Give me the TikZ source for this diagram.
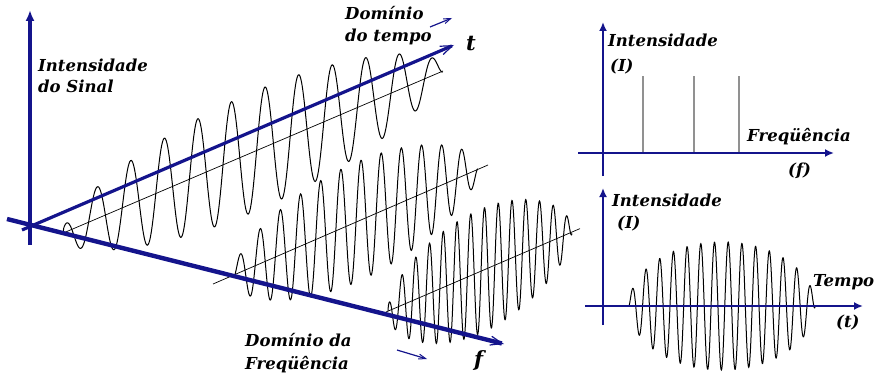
\documentclass[tikz,border=0pt]{standalone}
\usepackage{fontspec}
\setmainfont{DejaVu Serif}
\usetikzlibrary{arrows.meta}
\definecolor{axblue}{RGB}{20,20,140}
\definecolor{spikegray}{RGB}{145,145,145}
\tikzset{
  lab/.style={font=\fontsize{16.5}{18}\selectfont\bfseries\itshape, inner sep=0pt, anchor=base west},
  biglab/.style={font=\fontsize{21}{22}\selectfont\bfseries\itshape, inner sep=0pt, anchor=base west},
  wave/.style={line width=1pt, black},
  baseln/.style={line width=0.7pt, black},
  axis/.style={line width=3.2pt, axblue},
  raxis/.style={line width=2.8pt, axblue, -{Latex[length=9pt,width=8pt]}},
  barb/.style={-{Straight Barb[length=12pt,width=9pt,line width=1.2pt]}},
  smallarrow/.style={line width=1.2pt, axblue, -{Straight Barb[length=7pt,width=5pt,line width=1pt]}},
  spike/.style={line width=2.2pt, spikegray}
}
\begin{document}
\begin{tikzpicture}[x=1pt,y=-1pt]
\useasboundingbox (0,0) rectangle (882,377);
% ---------- left: 3D picture ----------
\coordinate (b1s) at (61,234);  \coordinate (b1e) at (443,71);
\coordinate (b2s) at (213,284); \coordinate (b2e) at (488,165);
\coordinate (b3s) at (386,312); \coordinate (b3e) at (580,228.6);
\draw[baseln] (b1s) -- (b1e);
\draw[baseln] (b2s) -- (b2e);
\draw[baseln] (b3s) -- (b3e);
% wave packets
\draw[wave] plot[domain=0:1, samples=500, variable=\s]
  ({63+380*\s}, {233.1-162.1*\s - 60*sqrt(abs(sin(180*\s)))*cos(10.714*(380*\s-34))});
\draw[wave] plot[domain=0:1, samples=500, variable=\s]
  ({233+245*\s}, {275.5-106*\s - 60*sqrt(abs(sin(180*\s)))*cos(17.848*(245*\s-7))});
\draw[wave] plot[domain=0:1, samples=600, variable=\s]
  ({388+184*\s}, {311-79*\s - 62*sqrt(abs(sin(180*\s)))*cos(26.182*(184*\s-14))});
% axes
\coordinate (vbot) at (30,245); \coordinate (vtop) at (30,10);
\coordinate (tstart) at (22,230); \coordinate (ttip) at (454,45);
\coordinate (fstart) at (7,219);  \coordinate (ftip) at (504,344);
\draw[axis, -{Latex[length=11pt,width=9pt]}] (vbot) -- (vtop);
\draw[axis, barb] (tstart) -- (ttip);
\draw[axis, line width=4.4pt, barb] (fstart) -- (ftip);
% small direction arrows
\coordinate (ta1) at (430,27); \coordinate (ta2) at (452,18);
\coordinate (fa1) at (397,350); \coordinate (fa2) at (427,359);
\draw[smallarrow] (ta1) -- (ta2);
\draw[smallarrow] (fa1) -- (fa2);
% labels
\node[lab] (is1) at (38,71.5) {Intensidade};
\node[lab] (is2) at (38,92.5) {do Sinal};
\node[lab] (dt1) at (345,20) {Domínio};
\node[lab] (dt2) at (345,41.5) {do tempo};
\node[lab] (df1) at (245,346.5) {Domínio da};
\node[lab] (df2) at (245,369.5) {Freqüência};
\node[biglab] (tl) at (466,50.5) {t};
\node[biglab] (fl) at (474,366) {f};
% ---------- right top: spectrum ----------
\coordinate (rtv1) at (603,176); \coordinate (rtv2) at (603,22);
\coordinate (rth1) at (578,153); \coordinate (rth2) at (834,153);
\coordinate (s1a) at (643,153); \coordinate (s1b) at (643,76);
\coordinate (s2a) at (694,153); \coordinate (s2b) at (694,76);
\coordinate (s3a) at (739,153); \coordinate (s3b) at (739,76);
\draw[spike] (s1a) -- (s1b);
\draw[spike] (s2a) -- (s2b);
\draw[spike] (s3a) -- (s3b);
\draw[raxis] (rtv1) -- (rtv2);
\draw[raxis] (rth1) -- (rth2);
\node[lab] (ri1) at (608,46.5) {Intensidade};
\node[lab] (ri2) at (610,71.5) {(I)};
\node[lab] (rf1) at (747,141.5) {Freqüência};
\node[lab] (rf2) at (788,175) {(f)};
% ---------- right bottom: time signal ----------
\draw[wave] plot[domain=629:815, samples=700, variable=\x]
  ({\x}, {306 - 64*sqrt(max(0,1-((\x-722)/93)^2))*cos(26.277*(\x-632.3))});
\coordinate (rbv1) at (603,325); \coordinate (rbv2) at (603,188);
\coordinate (rbh1) at (585,306); \coordinate (rbh2) at (863,306);
\draw[raxis] (rbv1) -- (rbv2);
\draw[raxis] (rbh1) -- (rbh2);
\node[lab] (bi1) at (612,206) {Intensidade};
\node[lab] (bi2) at (617,228) {(I)};
\node[lab] (bt1) at (813,286) {Tempo};
\node[lab] (bt2) at (836,327.5) {(t)};
\end{tikzpicture}
\end{document}
